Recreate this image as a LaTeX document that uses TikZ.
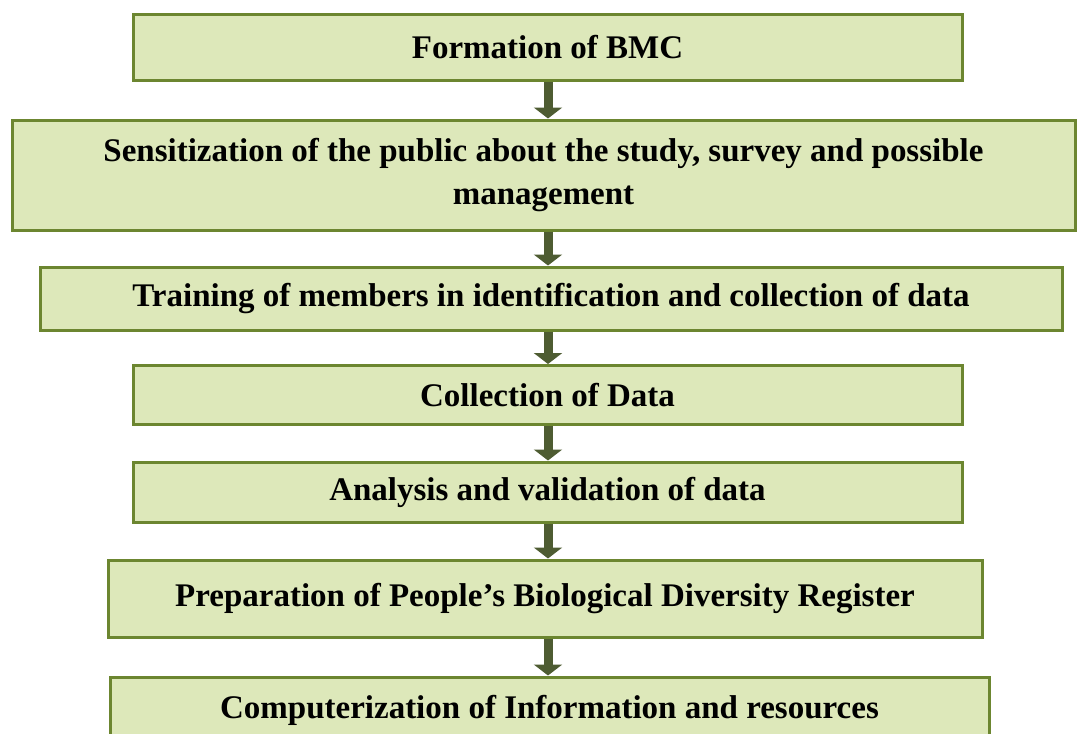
\documentclass[tikz,border=0pt]{standalone}
\usepackage{fontspec}
\setmainfont{Liberation Serif}
\usetikzlibrary{arrows.meta}
\definecolor{boxfill}{RGB}{221,232,186}
\definecolor{boxline}{RGB}{108,134,48}
\definecolor{arrowcol}{RGB}{78,92,50}
\tikzset{
  stage/.style={draw=boxline,fill=boxfill,line width=3pt,inner sep=0pt,
    font=\fontsize{33}{43}\selectfont\bfseries,align=center},
  flow/.style={arrowcol,line width=9pt,-{Triangle[width=28pt,length=11pt]}}
}
\begin{document}
\begin{tikzpicture}[x=1pt,y=-1pt]
  \clip(0,0)rectangle(1077,734);
  \useasboundingbox(0,0)rectangle(1077,734);
  \fill[white](0,0)rectangle(1077,734);
  \coordinate(axis)at(548,0);
  \node[stage,minimum width=829pt,minimum height=66pt](bmc)at(547.5,47.5){Formation of BMC};
  \node[stage,minimum width=1063pt,minimum height=110pt](sens)at(543.5,175)
    {Sensitization of the public about the study, survey and possible\\management};
  \node[stage,minimum width=1022pt,minimum height=63pt](train)at(551,298.5)
    {Training of members in identification and collection of data};
  \node[stage,minimum width=829pt,minimum height=59pt](coll)at(547.5,395){Collection of Data};
  \node[stage,minimum width=829pt,minimum height=60pt](anal)at(547.5,492){Analysis and validation of data};
  \node[stage,minimum width=874pt,minimum height=77pt](prep)at(545,598.5)
    {Preparation of People's Biological Diversity Register};
  \node[stage,minimum width=879pt,minimum height=66pt](comp)at(549.5,710)
    {Computerization of Information and resources};
  \foreach \a/\b in {bmc/sens,sens/train,train/coll,coll/anal,anal/prep,prep/comp}
    \draw[flow](\a.south-|axis)--(\b.north-|axis);
\end{tikzpicture}
\end{document}
